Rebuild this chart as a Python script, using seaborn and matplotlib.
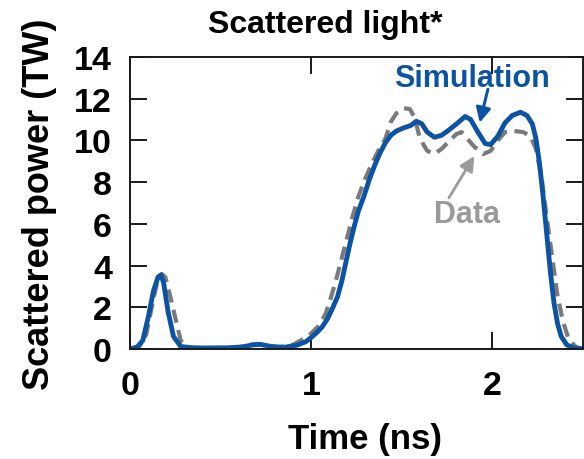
import numpy as np
import pandas as pd
import matplotlib
matplotlib.use("Agg")
import matplotlib.pyplot as plt
import seaborn as sns

# ---- data ----
t_sim = [0.00, 0.04, 0.07, 0.10, 0.13, 0.155, 0.17, 0.185, 0.21, 0.24, 0.28, 0.35,
         0.45, 0.55, 0.62, 0.68, 0.72, 0.78, 0.85, 0.92, 0.97, 1.00, 1.03, 1.06,
         1.09, 1.12, 1.145, 1.17, 1.19, 1.21, 1.235, 1.26, 1.29, 1.32, 1.35, 1.38,
         1.41, 1.44, 1.47, 1.51, 1.55, 1.58, 1.61, 1.64, 1.68, 1.72, 1.76, 1.81,
         1.85, 1.88, 1.92, 1.96, 1.99, 2.03, 2.07, 2.11, 2.155, 2.19, 2.22, 2.24,
         2.26, 2.28, 2.30, 2.32, 2.34, 2.36, 2.38, 2.41, 2.45, 2.50]
p_sim = [0.00, 0.10, 0.40, 1.50, 2.80, 3.45, 3.55, 3.20, 1.80, 0.60, 0.12, 0.05,
         0.05, 0.06, 0.10, 0.20, 0.22, 0.12, 0.08, 0.18, 0.35, 0.55, 0.78, 1.05,
         1.45, 2.00, 2.50, 3.30, 4.10, 4.90, 5.80, 6.60, 7.30, 8.10, 8.80, 9.40,
         9.90, 10.25, 10.45, 10.60, 10.72, 10.92, 10.80, 10.40, 10.15, 10.25, 10.50, 10.85,
         11.15, 11.00, 10.40, 9.85, 9.80, 10.20, 10.85, 11.20, 11.35, 11.20, 10.80, 10.10,
         8.90, 7.30, 5.50, 3.70, 2.20, 1.20, 0.60, 0.20, 0.05, 0.00]

t_dat = [0.00, 0.05, 0.09, 0.12, 0.15, 0.175, 0.195, 0.22, 0.25, 0.28, 0.32, 0.40,
         0.50, 0.60, 0.66, 0.70, 0.75, 0.82, 0.90, 0.96, 1.00, 1.04, 1.08, 1.11,
         1.14, 1.17, 1.20, 1.23, 1.26, 1.29, 1.33, 1.37, 1.41, 1.44, 1.47, 1.51,
         1.545, 1.57, 1.60, 1.64, 1.68, 1.72, 1.76, 1.80, 1.83, 1.86, 1.90, 1.95,
         1.99, 2.03, 2.07, 2.12, 2.17, 2.21, 2.24, 2.27, 2.30, 2.33, 2.36, 2.39,
         2.42, 2.46, 2.50]
p_dat = [0.00, 0.10, 0.70, 2.00, 3.20, 3.60, 3.45, 2.60, 1.50, 0.40, 0.08, 0.05,
         0.05, 0.08, 0.20, 0.25, 0.15, 0.08, 0.20, 0.50, 0.75, 1.10, 1.70, 2.50,
         3.40, 4.40, 5.40, 6.40, 7.30, 8.00, 8.80, 9.50, 10.10, 10.90, 11.30, 11.55,
         11.50, 11.10, 10.10, 9.50, 9.35, 9.60, 9.95, 10.30, 10.40, 10.10, 9.70, 9.35,
         9.50, 10.00, 10.40, 10.45, 10.40, 10.20, 9.60, 8.30, 6.30, 4.40, 2.50, 1.30,
         0.50, 0.10, 0.00]

x_ticks = [0, 1, 2]
y_ticks = [0, 2, 4, 6, 8, 10, 12, 14]

BLUE = "#0c53a3"
GRAY = "#7a7a7a"
LGRAY = "#9a9a9b"
INK = "#000000"

sns.set_style("ticks")
plt.rcParams["font.family"] = ["Liberation Sans", "DejaVu Sans"]
plt.rcParams["font.weight"] = "bold"
plt.rcParams["text.color"] = INK

df_sim = pd.DataFrame({"t": t_sim, "p": p_sim})
df_dat = pd.DataFrame({"t": t_dat, "p": p_dat})

fig = plt.figure(figsize=(5.84, 4.6), dpi=100)
ax = fig.add_axes([130 / 584, 1 - 350 / 460, 453 / 584, 292 / 460])

sns.lineplot(data=df_dat, x="t", y="p", ax=ax, color=GRAY, lw=3.0,
             linestyle=(0, (3.2, 1.8)), sort=False)
sns.lineplot(data=df_sim, x="t", y="p", ax=ax, color=BLUE, lw=3.5, sort=False)

ax.set_xlim(0, 2.5)
ax.set_ylim(0, 14)
ax.set_xticks(x_ticks)
ax.set_yticks(y_ticks)
ax.set_xticklabels([str(v) for v in x_ticks], fontsize=24.5, fontweight="bold", color=INK)
ax.set_yticklabels([str(v) for v in y_ticks], fontsize=24.5, fontweight="bold", color=INK)
ax.tick_params(axis="both", direction="in", length=12.5, width=1.4, color="#1a1a1a",
               top=True, right=True)
ax.tick_params(axis="x", pad=15)
ax.tick_params(axis="y", pad=13)
for s in ax.spines.values():
    s.set_visible(True)
    s.set_linewidth(1.4)
    s.set_color("#1a1a1a")

ax.set_xlabel("Time (ns)", fontsize=25, fontweight="bold", color=INK)
ax.set_ylabel("Scattered power (TW)", fontsize=26, fontweight="bold", color=INK)
ax.xaxis.set_label_coords((365 - 130) / 453, (350 - 423) / 292)
ax.yaxis.set_label_coords((57 - 130) / 453, (350 - 204) / 292)

fig.text(325 / 584, 1 - 25 / 460, "Scattered light*", ha="center", va="center",
         fontsize=23, fontweight="bold", color=INK)

ax.text(1.89, 13.0, "Simulation", color=BLUE, fontsize=22, fontweight="bold",
        ha="center", va="center")
ax.annotate("", xy=(1.93, 10.85), xytext=(1.975, 12.45),
            arrowprops=dict(arrowstyle="-|>", color=BLUE, lw=2.2, mutation_scale=22,
                            shrinkA=0, shrinkB=0))
ax.text(1.86, 6.45, "Data", color=LGRAY, fontsize=22, fontweight="bold",
        ha="center", va="center")
ax.annotate("", xy=(1.90, 9.25), xytext=(1.76, 7.25),
            arrowprops=dict(arrowstyle="-|>", color=LGRAY, lw=2.0, mutation_scale=22,
                            shrinkA=0, shrinkB=0))

fig.savefig("out.png", dpi=100)
